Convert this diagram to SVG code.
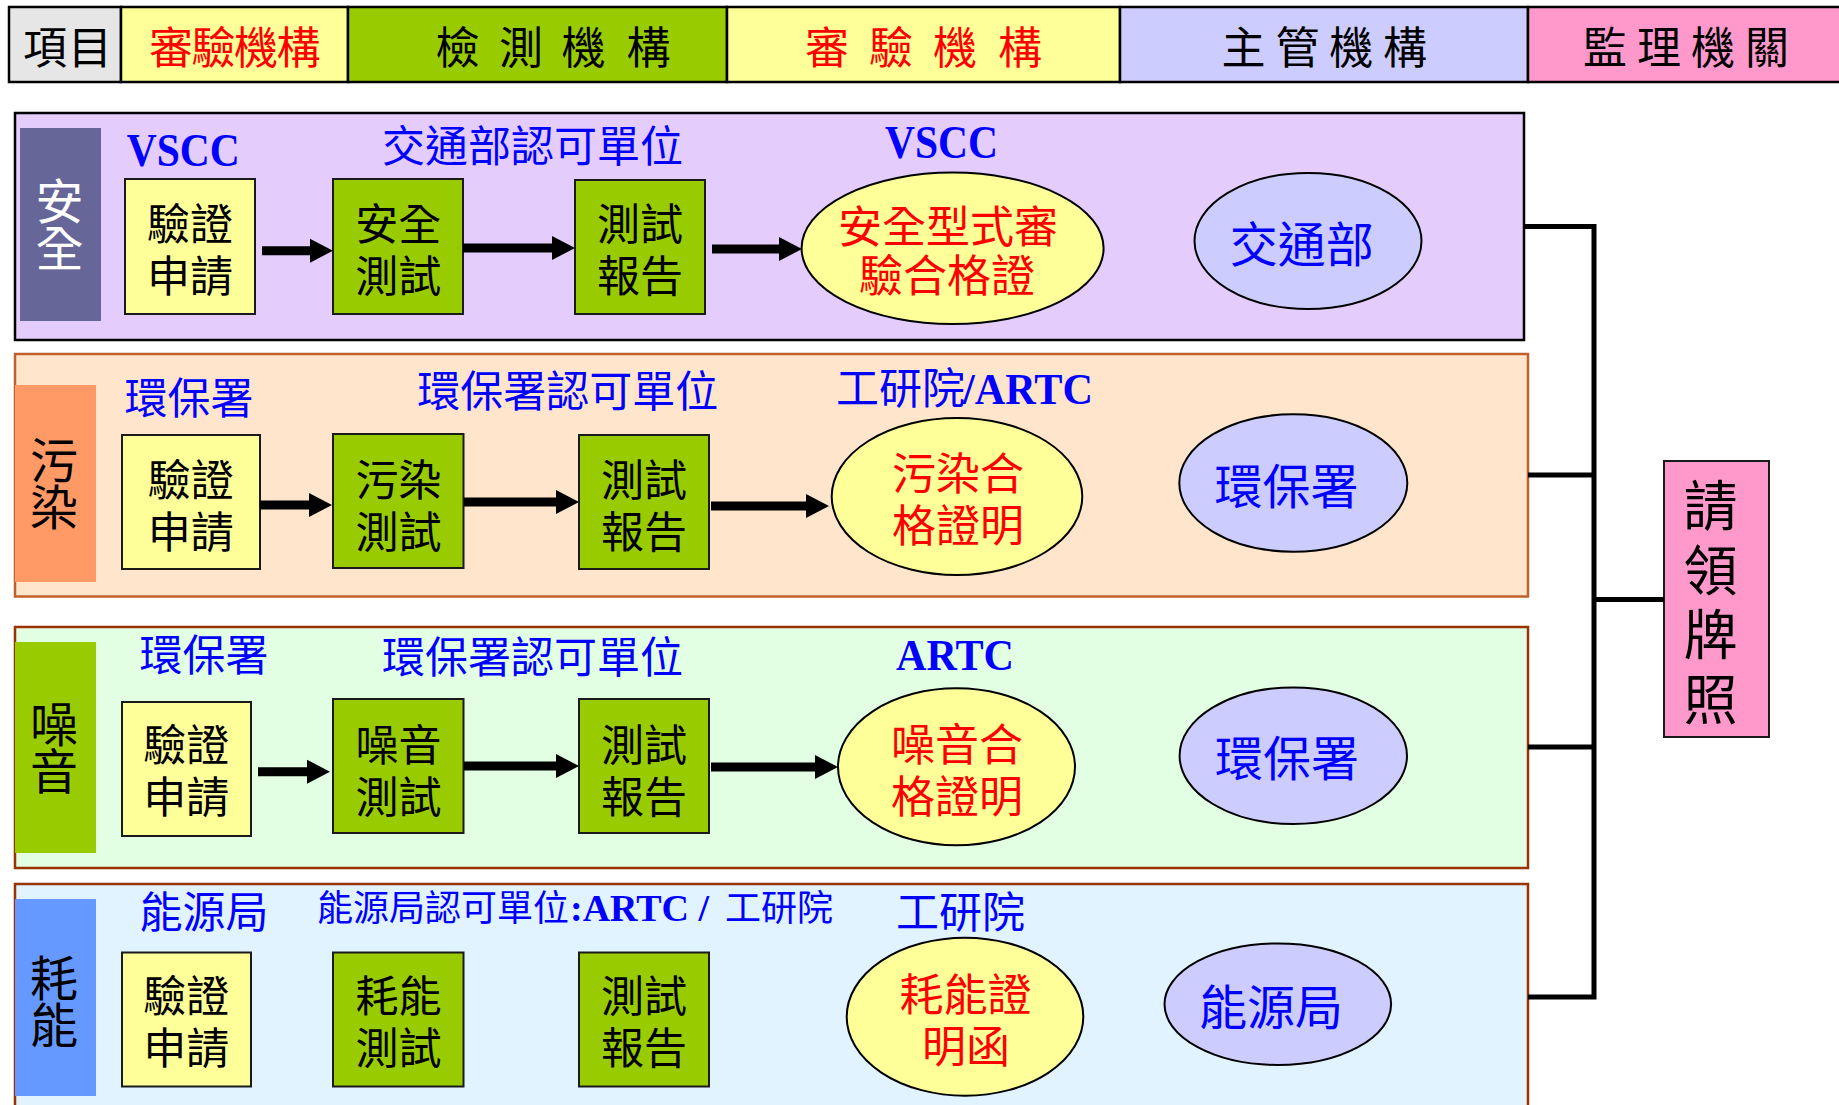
<svg xmlns="http://www.w3.org/2000/svg" width="1839" height="1105" viewBox="0 0 1839 1105">
<style>
.cjk{font-family:"Liberation Sans","Noto Sans CJK TC","Noto Sans CJK SC",sans-serif;}
.lat{font-family:"Liberation Serif",serif;font-weight:bold;}
.hd{font-size:44px;}
.bx{font-size:43px;fill:#000;text-anchor:middle;}
.lbl{font-size:43px;fill:#0000FF;text-anchor:middle;}
.elt{font-size:44px;fill:#FF0000;text-anchor:middle;}
.elb{font-size:48px;fill:#0000FF;text-anchor:middle;}
.side{font-size:48px;text-anchor:middle;writing-mode:vertical-rl;text-orientation:upright;letter-spacing:-1px;}
.cell{stroke:#000;stroke-width:2.5;}
.box{stroke:#1a1a1a;stroke-width:2;}
.ell{stroke:#000;stroke-width:2;}
.yel{fill:#FFFF99;}
.grn{fill:#99CC00;}
.lav{fill:#CCCCFF;}
.arrow{stroke:#000;stroke-width:9;fill:none;marker-end:url(#ah);}
.conn{stroke:#000;stroke-width:5;fill:none;}
</style>
<defs>
<marker id="ah" markerUnits="userSpaceOnUse" markerWidth="24" markerHeight="26" viewBox="0 -13 24 26" refX="0" refY="0" orient="auto">
<path d="M0,-12 L23,0 L0,12 Z" fill="#000"/>
</marker>
</defs>
<rect width="1839" height="1105" fill="#fff"/>

<!-- header -->
<g id="header">
<g id="h-item"><rect class="cell" x="9" y="7" width="112" height="75" fill="#E6E6E6"/><text class="cjk hd" x="45 90" y="64" text-anchor="middle" fill="#000">項目</text></g>
<g id="h-review1"><rect class="cell" x="121" y="7" width="227" height="75" fill="#FFFF99"/><text class="cjk hd" x="171 213.5 256 298.5" y="64" text-anchor="middle" fill="#FF0000">審驗機構</text></g>
<g id="h-test"><rect class="cell" x="348" y="7" width="379" height="75" fill="#99CC00"/><text class="cjk hd" x="457.5 521 583.5 648.5" y="64" text-anchor="middle" fill="#000">檢測機構</text></g>
<g id="h-review2"><rect class="cell" x="727" y="7" width="393" height="75" fill="#FFFF99"/><text class="cjk hd" x="827 891 955 1020" y="64" text-anchor="middle" fill="#FF0000">審驗機構</text></g>
<g id="h-auth"><rect class="cell" x="1120" y="7" width="408" height="75" fill="#CCCCFF"/><text class="cjk hd" x="1243.6 1297.4 1351.2 1405" y="64" text-anchor="middle" fill="#000">主管機構</text></g>
<g id="h-super"><rect class="cell" x="1528" y="7" width="320" height="75" fill="#FF99CC"/><text class="cjk hd" x="1605 1659 1713 1767" y="64" text-anchor="middle" fill="#000">監理機關</text></g>
</g>

<!-- rows -->
<g id="row-safety">
<rect x="15" y="113" width="1509" height="227" fill="#E4CCFC" stroke="#000" stroke-width="2.5"/>
<rect x="20" y="128" width="81" height="193" fill="#666699"/>
<text class="cjk side" x="55" y="224" fill="#fff">安全</text>
<text class="lat" x="126.7" y="166" font-size="46" fill="#0000FF" textLength="113" lengthAdjust="spacingAndGlyphs">VSCC</text>
<text class="cjk lbl" x="532.6" y="162">交通部認可單位</text>
<text class="lat" x="885" y="158" font-size="46" fill="#0000FF" textLength="113" lengthAdjust="spacingAndGlyphs">VSCC</text>
</g>
<g id="row-pollution">
<rect x="15" y="354" width="1513" height="242.5" fill="#FFE5CC" stroke="#C0602A" stroke-width="2.5"/>
<rect x="15" y="385" width="81" height="197" fill="#FF9966"/>
<text class="cjk side" x="49.5" y="483" fill="#000">污染</text>
<text class="cjk lbl" x="189" y="414">環保署</text>
<text class="cjk lbl" x="567.7" y="407">環保署認可單位</text>
<text x="836" y="403.5" fill="#0000FF"><tspan class="cjk" font-size="43">工研院</tspan><tspan class="lat" x="963" font-size="44" textLength="130" lengthAdjust="spacingAndGlyphs">/ARTC</tspan></text>
</g>
<g id="row-noise">
<rect x="15" y="627" width="1513" height="241" fill="#E3FFE3" stroke="#993300" stroke-width="2.5"/>
<rect x="15" y="642" width="81" height="211" fill="#99CC00"/>
<text class="cjk side" x="49.5" y="746.5" fill="#000">噪音</text>
<text class="cjk lbl" x="204" y="671">環保署</text>
<text class="cjk lbl" x="532.6" y="673">環保署認可單位</text>
<text class="lat" x="896" y="669.5" font-size="44" fill="#0000FF" textLength="118" lengthAdjust="spacingAndGlyphs">ARTC</text>
</g>
<g id="row-energy">
<rect x="15" y="884" width="1513" height="240" fill="#E1F3FF" stroke="#993300" stroke-width="2.5"/>
<rect x="15" y="899" width="81" height="197" fill="#6699FF"/>
<text class="cjk side" x="49.5" y="1001" fill="#000">耗能</text>
<text class="cjk lbl" x="204" y="928">能源局</text>
<text x="317" y="921" fill="#0000FF"><tspan class="cjk" font-size="36">能源局認可單位</tspan><tspan class="lat" x="570" font-size="38">:ARTC /</tspan><tspan class="cjk" x="725" font-size="36">工研院</tspan></text>
<text class="cjk lbl" x="960.5" y="928">工研院</text>
</g>

<!-- row 1 nodes -->
<g id="s-apply"><rect class="box yel" x="125" y="179" width="130" height="135"/><text class="cjk bx" x="190" y="240">驗證<tspan x="190" dy="52">申請</tspan></text></g>
<g id="s-test"><rect class="box grn" x="333" y="179" width="130" height="135"/><text class="cjk bx" x="398.3" y="240">安全<tspan x="398.3" dy="52">測試</tspan></text></g>
<g id="s-report"><rect class="box grn" x="575" y="180" width="130" height="134"/><text class="cjk bx" x="640" y="240">測試<tspan x="640" dy="52">報告</tspan></text></g>
<g id="s-cert"><ellipse class="ell yel" cx="952.6" cy="248.3" rx="151" ry="75.7"/><text class="cjk elt" x="948" y="242.5">安全型式審<tspan x="947" dy="49.5">驗合格證</tspan></text></g>
<g id="s-auth"><ellipse class="ell lav" cx="1308" cy="241" rx="113.5" ry="68"/><text class="cjk elb" x="1301.7" y="262">交通部</text></g>

<!-- row 2 nodes -->
<g id="p-apply"><rect class="box yel" x="122" y="435" width="138" height="134"/><text class="cjk bx" x="190.7" y="496">驗證<tspan x="190.7" dy="52">申請</tspan></text></g>
<g id="p-test"><rect class="box grn" x="333" y="434" width="130.5" height="134"/><text class="cjk bx" x="398.5" y="496">污染<tspan x="398.5" dy="52">測試</tspan></text></g>
<g id="p-report"><rect class="box grn" x="579" y="435" width="130" height="134"/><text class="cjk bx" x="644" y="496">測試<tspan x="644" dy="52">報告</tspan></text></g>
<g id="p-cert"><ellipse class="ell yel" cx="957" cy="496.5" rx="125.3" ry="78.5"/><text class="cjk elt" x="958" y="490">污染合<tspan x="958" dy="52">格證明</tspan></text></g>
<g id="p-auth"><ellipse class="ell lav" cx="1293.3" cy="483" rx="114" ry="68.7"/><text class="cjk elb" x="1286.5" y="504">環保署</text></g>

<!-- row 3 nodes -->
<g id="n-apply"><rect class="box yel" x="122" y="702" width="129" height="134"/><text class="cjk bx" x="186.3" y="761">驗證<tspan x="186.3" dy="52">申請</tspan></text></g>
<g id="n-test"><rect class="box grn" x="333" y="699" width="130.5" height="134"/><text class="cjk bx" x="398.5" y="761">噪音<tspan x="398.5" dy="52">測試</tspan></text></g>
<g id="n-report"><rect class="box grn" x="579" y="699" width="130" height="134"/><text class="cjk bx" x="644" y="761">測試<tspan x="644" dy="52">報告</tspan></text></g>
<g id="n-cert"><ellipse class="ell yel" cx="956.5" cy="766.8" rx="118.5" ry="78.5"/><text class="cjk elt" x="957" y="761">噪音合<tspan x="957" dy="52">格證明</tspan></text></g>
<g id="n-auth"><ellipse class="ell lav" cx="1293.3" cy="755.7" rx="113.7" ry="68.3"/><text class="cjk elb" x="1287" y="776">環保署</text></g>

<!-- row 4 nodes -->
<g id="e-apply"><rect class="box yel" x="122" y="952.5" width="129" height="134"/><text class="cjk bx" x="186.3" y="1012">驗證<tspan x="186.3" dy="52">申請</tspan></text></g>
<g id="e-test"><rect class="box grn" x="333" y="952.5" width="130.5" height="134"/><text class="cjk bx" x="398.5" y="1012">耗能<tspan x="398.5" dy="52">測試</tspan></text></g>
<g id="e-report"><rect class="box grn" x="579" y="952.5" width="130" height="134"/><text class="cjk bx" x="644" y="1012">測試<tspan x="644" dy="52">報告</tspan></text></g>
<g id="e-cert"><ellipse class="ell yel" cx="965" cy="1016.7" rx="118.3" ry="79"/><text class="cjk elt" x="965.5" y="1011">耗能證<tspan x="966" dy="52">明函</tspan></text></g>
<g id="e-auth"><ellipse class="ell lav" cx="1277.8" cy="1004.2" rx="113.3" ry="60.8"/><text class="cjk elb" x="1271" y="1025">能源局</text></g>

<!-- license -->
<g id="license">
<rect x="1664" y="461" width="105" height="276" fill="#FF99CC" stroke="#1a1a1a" stroke-width="2"/>
<text class="cjk" font-size="54" text-anchor="middle" x="1706" y="607.5" style="writing-mode:vertical-rl;text-orientation:upright;letter-spacing:10.5px">請領牌照</text>
</g>

<!-- connectors -->
<g id="connectors">
<line class="arrow" x1="262" y1="250.7" x2="310" y2="250.7"/>
<line class="arrow" x1="463" y1="248" x2="552" y2="248"/>
<line class="arrow" x1="712" y1="249" x2="779" y2="249"/>
<line class="arrow" x1="260" y1="505" x2="309" y2="505"/>
<line class="arrow" x1="464" y1="502" x2="556" y2="502"/>
<line class="arrow" x1="711" y1="506" x2="806" y2="506"/>
<line class="arrow" x1="258" y1="771.7" x2="307" y2="771.7"/>
<line class="arrow" x1="464" y1="766" x2="556" y2="766"/>
<line class="arrow" x1="711" y1="767" x2="815" y2="767"/>
<path class="conn" d="M1524,226.5 H1594 V997 H1528 M1528,475 H1594 M1528,747 H1594 M1594,599.5 H1664"/>
</g>
</svg>
